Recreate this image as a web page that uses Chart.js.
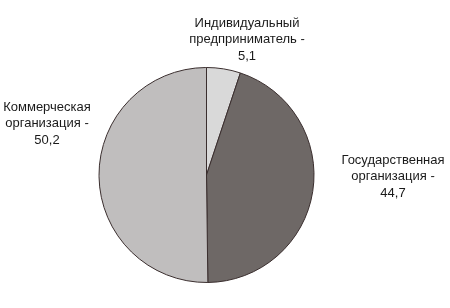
<!DOCTYPE html>
<html>
<head>
<meta charset="utf-8">
<script src="https://cdn.jsdelivr.net/npm/chart.js@4"></script>
<style>
  html, body { margin: 0; padding: 0; background: #fff; }
  #wrap { width: 450px; height: 308px; position: relative; }
</style>
</head>
<body>
<div id="wrap"><canvas id="pieChart"></canvas></div>
<script>
  // data
  const categories = ["Индивидуальный предприниматель", "Государственная организация", "Коммерческая организация"];
  const shares = [5.1, 44.7, 50.2];
  const labelLines = [
    ["Индивидуальный", "предприниматель -", "5,1"],
    ["Государственная", "организация -", "44,7"],
    ["Коммерческая", "организация -", "50,2"]
  ];
  const sliceColors = ["#d9d9d9", "#6e6866", "#c0bebe"];

  // where each label block is centred (first line)
  const labelAnchors = [
    { x: 247, y: 23 },
    { x: 393, y: 160 },
    { x: 47, y: 107 }
  ];

  const sliceLabels = {
    id: "sliceLabels",
    afterDraw(chart) {
      const ctx = chart.ctx;
      ctx.save();
      ctx.font = "13px 'Liberation Sans', Arial, sans-serif";
      ctx.fillStyle = "#1a1a1a";
      ctx.textAlign = "center";
      ctx.textBaseline = "middle";
      labelLines.forEach(function (lines, i) {
        const a = labelAnchors[i];
        lines.forEach(function (t, j) {
          ctx.fillText(t, a.x, a.y + j * 16.5);
        });
      });
      ctx.restore();
    }
  };

  new Chart(document.getElementById("pieChart"), {
    type: "pie",
    data: {
      labels: categories,
      datasets: [{
        data: shares,
        backgroundColor: sliceColors,
        borderColor: "#3a2e2e",
        borderWidth: 1
      }]
    },
    options: {
      responsive: true,
      maintainAspectRatio: false,
      animation: false,
      layout: { padding: { top: 67, bottom: 25, left: 98, right: 135 } },
      plugins: {
        legend: { display: false },
        tooltip: { enabled: false }
      }
    },
    plugins: [sliceLabels]
  });
</script>
</body>
</html>
